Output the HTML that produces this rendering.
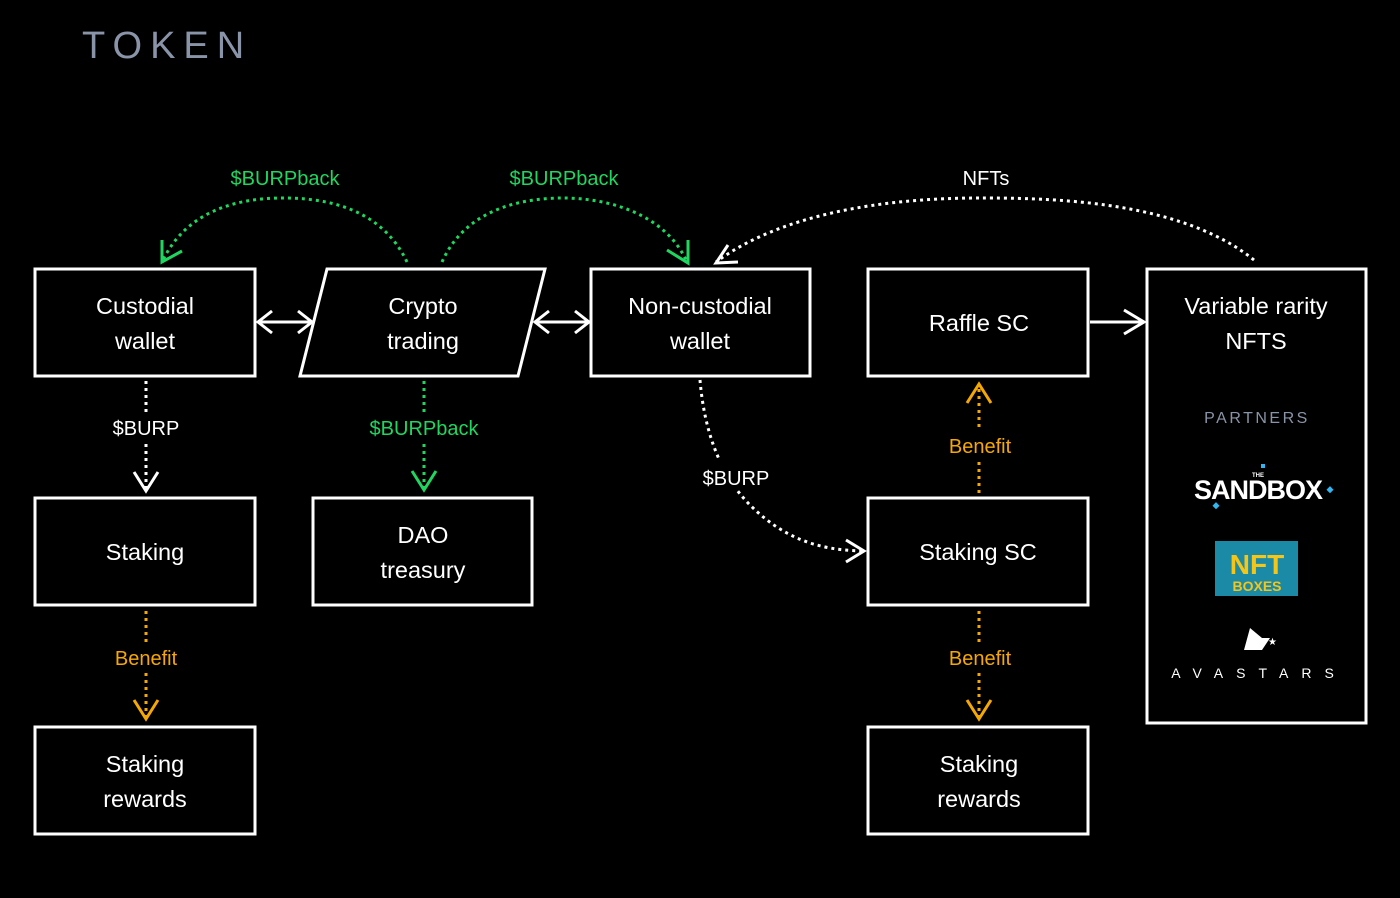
<!DOCTYPE html>
<html><head><meta charset="utf-8"><style>
html,body{margin:0;padding:0;background:#000;}
svg{display:block;}
text{font-family:"Liberation Sans",sans-serif;}
</style></head><body>
<svg width="1400" height="898" viewBox="0 0 1400 898" xmlns="http://www.w3.org/2000/svg">
<rect width="1400" height="898" fill="#000"/>
<text x="82" y="58" font-size="38" fill="#8a94a8" letter-spacing="8">TOKEN</text>

<g fill="none" stroke="#fff" stroke-width="3">
<rect x="35" y="269" width="220" height="107"/>
<polygon points="327,269 545,269 518,376 300,376"/>
<rect x="591" y="269" width="219" height="107"/>
<rect x="868" y="269" width="220" height="107"/>
<rect x="1147" y="269" width="219" height="454"/>
<rect x="35" y="498" width="220" height="107"/>
<rect x="313" y="498" width="219" height="107"/>
<rect x="868" y="498" width="220" height="107"/>
<rect x="35" y="727" width="220" height="107"/>
<rect x="868" y="727" width="220" height="107"/>
<line x1="258" y1="322" x2="312" y2="322"/>
<polyline points="272,311 258,322 272,333"/>
<polyline points="298,311 312,322 298,333"/>
<line x1="535" y1="322" x2="589" y2="322"/>
<polyline points="549,311 535,322 549,333"/>
<polyline points="575,311 589,322 575,333"/>
<line x1="1090" y1="322" x2="1144" y2="322"/>
<polyline points="1124,310 1144,322 1124,334"/>
</g>

<g fill="none" stroke="#fff" stroke-width="3" stroke-dasharray="3 4">
<line x1="146" y1="381" x2="146" y2="413"/>
<line x1="146" y1="444" x2="146" y2="488"/>
<path d="M700,380 C705,440 725,480 750,505 C790,545 830,550 862,551"/>
<path d="M1254,260 C1180,200 1050,198 980,198 C880,198 780,215 716,262"/>
</g>
<rect x="698" y="460" width="76" height="30" fill="#000"/>
<g fill="none" stroke="#fff" stroke-width="3">
<polyline points="134,472 146,491 158,472"/>
<polyline points="846,540 864,551 846,562"/>
<polyline points="728,245 716,263 738,262"/>
</g>

<g fill="none" stroke="#1ed760" stroke-width="3" stroke-dasharray="3 4">
<path d="M407,262 C380,205 320,198 283,198 C230,198 185,215 163,260"/>
<path d="M442,262 C465,210 520,198 563,198 C610,198 665,215 686,260"/>
<line x1="424" y1="381" x2="424" y2="413"/>
<line x1="424" y1="444" x2="424" y2="488"/>
</g>
<g fill="none" stroke="#1ed760" stroke-width="3">
<polyline points="162,240 162,262 182,251"/>
<polyline points="667,250 688,263 688,240"/>
<polyline points="412,471 424,490 436,471"/>
</g>

<g fill="none" stroke="#f5a800" stroke-width="3" stroke-dasharray="3 4">
<line x1="146" y1="611" x2="146" y2="642"/>
<line x1="146" y1="673" x2="146" y2="718"/>
<line x1="979" y1="611" x2="979" y2="642"/>
<line x1="979" y1="673" x2="979" y2="718"/>
<line x1="979" y1="389" x2="979" y2="430"/>
<line x1="979" y1="462" x2="979" y2="493"/>
</g>
<g fill="none" stroke="#f5a800" stroke-width="3">
<polyline points="134,700 146,719 158,700"/>
<polyline points="967,700 979,719 991,700"/>
<polyline points="967,403 979,384 991,403"/>
</g>

<g font-size="20" text-anchor="middle">
<text x="285" y="185" fill="#1ed760">$BURPback</text>
<text x="564" y="185" fill="#1ed760">$BURPback</text>
<text x="986" y="185" fill="#fff">NFTs</text>
<text x="146" y="435" fill="#fff">$BURP</text>
<text x="424" y="435" fill="#1ed760">$BURPback</text>
<text x="736" y="485" fill="#fff">$BURP</text>
<text x="980" y="453" fill="#f5a800">Benefit</text>
<text x="146" y="665" fill="#f5a800">Benefit</text>
<text x="980" y="665" fill="#f5a800">Benefit</text>
</g>
<g font-size="23.5" text-anchor="middle" fill="#fff">
<text x="145" y="314">Custodial</text><text x="145" y="349">wallet</text>
<text x="423" y="314">Crypto</text><text x="423" y="349">trading</text>
<text x="700" y="314">Non-custodial</text><text x="700" y="349">wallet</text>
<text x="979" y="331">Raffle SC</text>
<text x="1256" y="314">Variable rarity</text><text x="1256" y="349">NFTS</text>
<text x="145" y="560">Staking</text>
<text x="423" y="543">DAO</text><text x="423" y="578">treasury</text>
<text x="978" y="560">Staking SC</text>
<text x="145" y="772">Staking</text><text x="145" y="807">rewards</text>
<text x="979" y="772">Staking</text><text x="979" y="807">rewards</text>
</g>

<text x="1257" y="423" font-size="16" fill="#8a94a8" text-anchor="middle" letter-spacing="2.5">PARTNERS</text>
<text x="1258" y="477" font-size="6" fill="#fff" text-anchor="middle" font-weight="bold">THE</text>
<text x="1258" y="499" font-size="27" fill="#fff" text-anchor="middle" font-weight="bold" letter-spacing="-1">SANDBOX</text>
<rect x="1261" y="464" width="4" height="4" fill="#33b5f0"/>
<rect x="1214" y="503" width="5" height="5" fill="#33b5f0" transform="rotate(45 1216 505)"/>
<rect x="1328" y="487" width="5" height="5" fill="#33b5f0" transform="rotate(45 1330 489)"/>
<rect x="1215" y="541" width="83" height="55" fill="#1a8aa6"/>
<text x="1257" y="574" font-size="28" fill="#f5c518" text-anchor="middle" font-weight="bold">NFT</text>
<text x="1257" y="591" font-size="14" fill="#f5c518" text-anchor="middle" font-weight="bold">BOXES</text>
<polygon points="1250,628 1262,638 1270,638 1262,650 1244,650" fill="#fff"/>
<text x="1268" y="645" font-size="10" fill="#fff">★</text>
<text x="1259" y="678" font-size="14" fill="#fff" text-anchor="middle" letter-spacing="13">AVASTARS</text>
</svg>
</body></html>
